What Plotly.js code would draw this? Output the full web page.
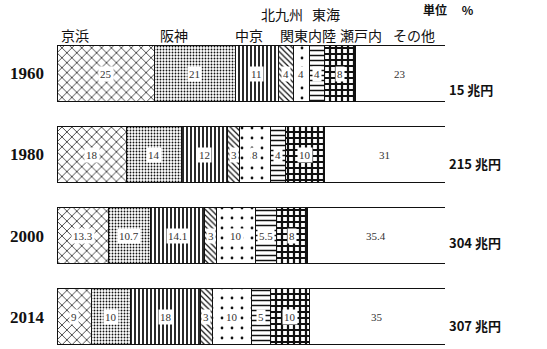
<!DOCTYPE html>
<html>
<head>
<meta charset="utf-8">
<script src="https://cdn.plot.ly/plotly-3.0.1.min.js"></script>
<style>
	body { margin: 0; background: #fff; }
	#chart { width: 547px; height: 349px; }
</style>
</head>
<body>
<div id="chart"></div>
<script>
"use strict";
var years = ['1960', '1980', '2000', '2014'];
var totals = ['15 兆円', '215 兆円', '304 兆円', '307 兆円'];
var regions = ['京浜', '阪神', '中京', '北九州', '関東内陸', '東海', '瀬戸内', 'その他'];
var keihin = [25, 18, 13.3, 9];
var hanshin = [21, 14, 10.7, 10];
var chukyo = [11, 12, 14.1, 18];
var kitakyushu = [4, 3, 3, 3];
var kanto = [4, 8, 10, 10];
var tokai = [4, 4, 5.5, 5];
var setouchi = [8, 10, 8, 10];
var sonota = [23, 31, 35.4, 35];

var series = [keihin, hanshin, chukyo, kitakyushu, kanto, tokai, setouchi, sonota];

// pattern for each region (scan used hatches)
var patterns = [
	{shape: 'x', size: 7, solidity: 0.2},
	{shape: '.', size: 3, solidity: 0.3},
	{shape: '|', size: 4, solidity: 0.45},
	{shape: '\\', size: 4, solidity: 0.3},
	{shape: '.', size: 10, solidity: 0.06},
	{shape: '-', size: 5, solidity: 0.3},
	{shape: '+', size: 6, solidity: 0.6},
	{shape: '', size: 8, solidity: 0.1}
];

// where the region names sit above the 1960 bar: x in axis units, y in paper units
var labelPos = [
	[4.6, 0.994], [30.2, 0.994], [49.6, 0.994], [58, 1.06],
	[64.6, 0.994], [69.3, 1.06], [78.4, 0.994], [92, 0.994]
];
// the total labels sit a little under each bar's middle
var totalShift = [-16, -9, -7, -9];

var traces = [];
var annotations = [];
var cum = [0, 0, 0, 0];
for (var s = 0; s < series.length; s++) {
	traces.push({
		type: 'bar',
		orientation: 'h',
		y: years,
		x: series[s],
		name: regions[s],
		marker: {
			color: '#ffffff',
			line: {color: '#111', width: 1},
			pattern: {
				shape: patterns[s].shape,
				size: patterns[s].size,
				solidity: patterns[s].solidity,
				fgcolor: '#111',
				bgcolor: '#ffffff',
				fillmode: 'replace'
			}
		},
		hoverinfo: 'none'
	});
	for (var i = 0; i < years.length; i++) {
		annotations.push({
			x: cum[i] + series[s][i] / 2,
			y: i,
			xref: 'x', yref: 'y',
			text: String(series[s][i]),
			showarrow: false,
			bgcolor: '#ffffff',
			borderpad: 1,
			font: {family: 'Liberation Serif', size: 11, color: '#333'}
		});
		cum[i] += series[s][i];
	}
	annotations.push({
		x: labelPos[s][0],
		y: labelPos[s][1],
		xref: 'x', yref: 'paper',
		xanchor: 'center', yanchor: 'middle',
		text: regions[s],
		showarrow: false,
		font: {family: 'Noto Sans CJK JP', size: 14, color: '#111'}
	});
}

for (var j = 0; j < years.length; j++) {
	annotations.push({
		x: 100,
		y: j,
		yshift: totalShift[j],
		xref: 'x', yref: 'y',
		xanchor: 'left',
		xshift: 2,
		text: totals[j],
		showarrow: false,
		font: {family: 'Noto Sans CJK JP', size: 13, color: '#111', weight: 'bold'}
	});
}

annotations.push({
	x: 1.01, y: 1.073,
	xref: 'paper', yref: 'paper',
	xanchor: 'center', yanchor: 'middle',
	text: '単位　 %',
	showarrow: false,
	font: {family: 'Noto Sans CJK JP', size: 12, color: '#111', weight: 'bold'}
});

var layout = {
	barmode: 'stack',
	bargap: 0.31,
	showlegend: false,
	width: 547,
	height: 349,
	margin: {l: 57, r: 102, t: 33, b: 0},
	paper_bgcolor: '#ffffff',
	plot_bgcolor: '#ffffff',
	xaxis: {
		range: [0, 100],
		visible: false,
		fixedrange: true
	},
	yaxis: {
		type: 'category',
		range: [3.4, -0.5],
		showgrid: false,
		zeroline: false,
		showline: false,
		ticks: '',
		ticklabelstandoff: 12,
		tickfont: {family: 'Liberation Serif', size: 17, color: '#111', weight: 'bold'}
	},
	annotations: annotations
};

Plotly.newPlot(document.getElementById('chart'), traces, layout, {staticPlot: true});
</script>
</body>
</html>
